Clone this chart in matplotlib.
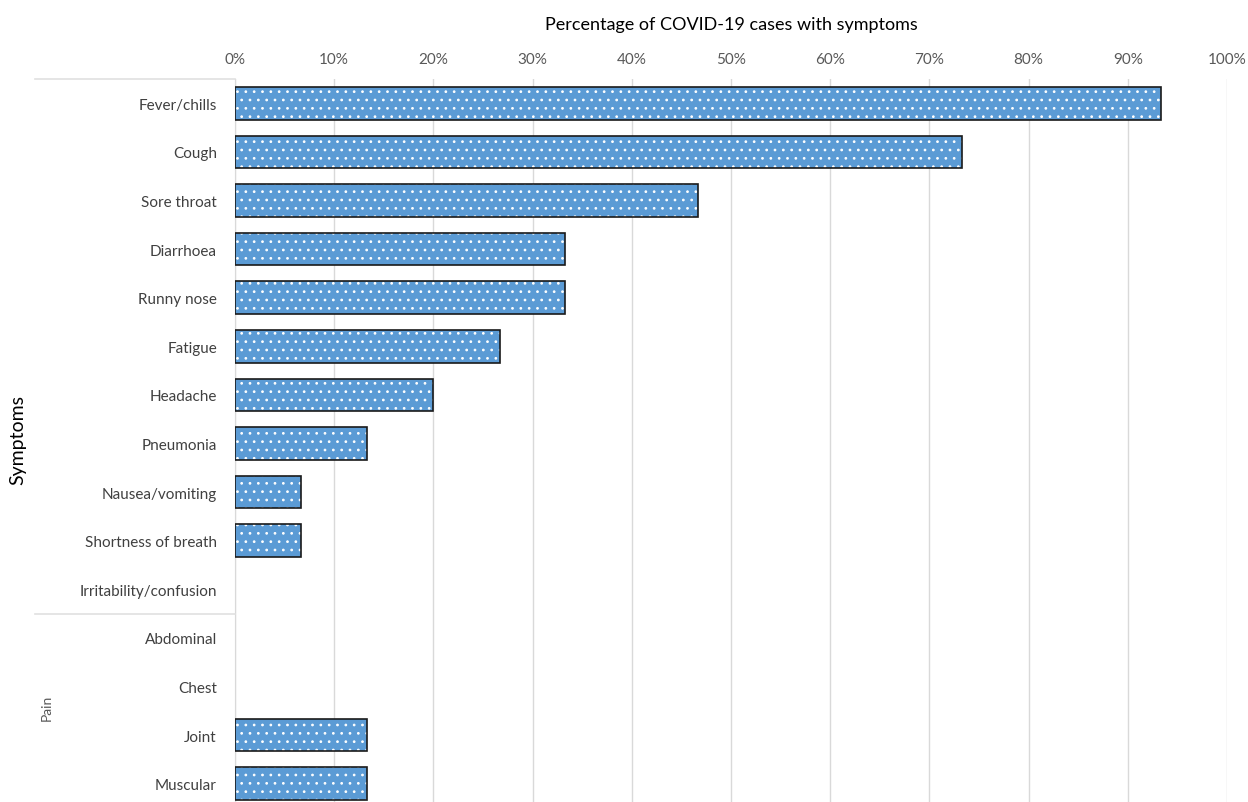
import numpy as np
import matplotlib.pyplot as plt
from matplotlib.lines import Line2D

plt.rcParams['font.family'] = ['Lato', 'DejaVu Sans']
plt.rcParams['hatch.linewidth'] = 0.75

symptoms = ["Fever/chills", "Cough", "Sore throat", "Diarrhoea", "Runny nose",
            "Fatigue", "Headache", "Pneumonia", "Nausea/vomiting",
            "Shortness of breath", "Irritability/confusion",
            "Abdominal", "Chest", "Joint", "Muscular"]
percent = [93.3, 73.3, 46.7, 33.3, 33.3, 26.7, 20.0, 13.3, 6.7, 6.7, 0.0,
           0.0, 0.0, 13.3, 13.3]
pain_rows = ["Abdominal", "Chest", "Joint", "Muscular"]
xticks = np.arange(0, 101, 10)

W, H = 1248, 803
fig = plt.figure(figsize=(W / 100, H / 100), dpi=100)
row_h = 48.6
top = 80
bottom = top + row_h * len(symptoms)
ax = fig.add_axes([235 / W, 1 - bottom / H, 992 / W, (bottom - top) / H])

y = np.arange(len(symptoms))
# fill with white dot hatch, then dark outline on top
ax.barh(y, percent, height=0.67, color='#5B9BD5', edgecolor='white',
        linewidth=0, hatch='..', zorder=3)
edges = ['#1a1a1a' if p > 0 else 'none' for p in percent]
ax.barh(y, percent, height=0.67, fill=False, edgecolor=edges,
        linewidth=1.2, zorder=4)
ax.set_xlim(0, 100)
ax.set_ylim(len(symptoms) - 0.5, -0.5)

ax.xaxis.tick_top()
ax.xaxis.set_label_position('top')
ax.set_xticks(xticks)
ax.set_xticklabels([f"{t}%" for t in xticks], color='#595959', fontsize=11)
ax.tick_params(axis='x', length=0, pad=9)
ax.set_xlabel("Percentage of COVID-19 cases with symptoms", fontsize=13,
              labelpad=17, color='black')
ax.grid(axis='x', color='#D9D9D9', linewidth=1, zorder=0)

ax.set_yticks(y)
ax.set_yticklabels(symptoms, color='#404040', fontsize=11)
ax.tick_params(axis='y', length=0, pad=13)

for s in ['top', 'right', 'bottom']:
    ax.spines[s].set_visible(False)
ax.spines['left'].set_color('#D9D9D9')

# category separator lines on the left
for yy in [top, top + row_h * (len(symptoms) - len(pain_rows))]:
    fig.add_artist(Line2D([35 / W, 235 / W], [1 - yy / H, 1 - yy / H],
                          color='#E0E0E0', linewidth=1.2))

fig.text(18 / W, 1 - 440 / H, "Symptoms", rotation=90, fontsize=14,
         ha='center', va='center', color='black')
fig.text(47 / W, 1 - 708 / H, "Pain", rotation=90, fontsize=10,
         ha='center', va='center', color='#595959')

fig.savefig("out.png", dpi=100)
